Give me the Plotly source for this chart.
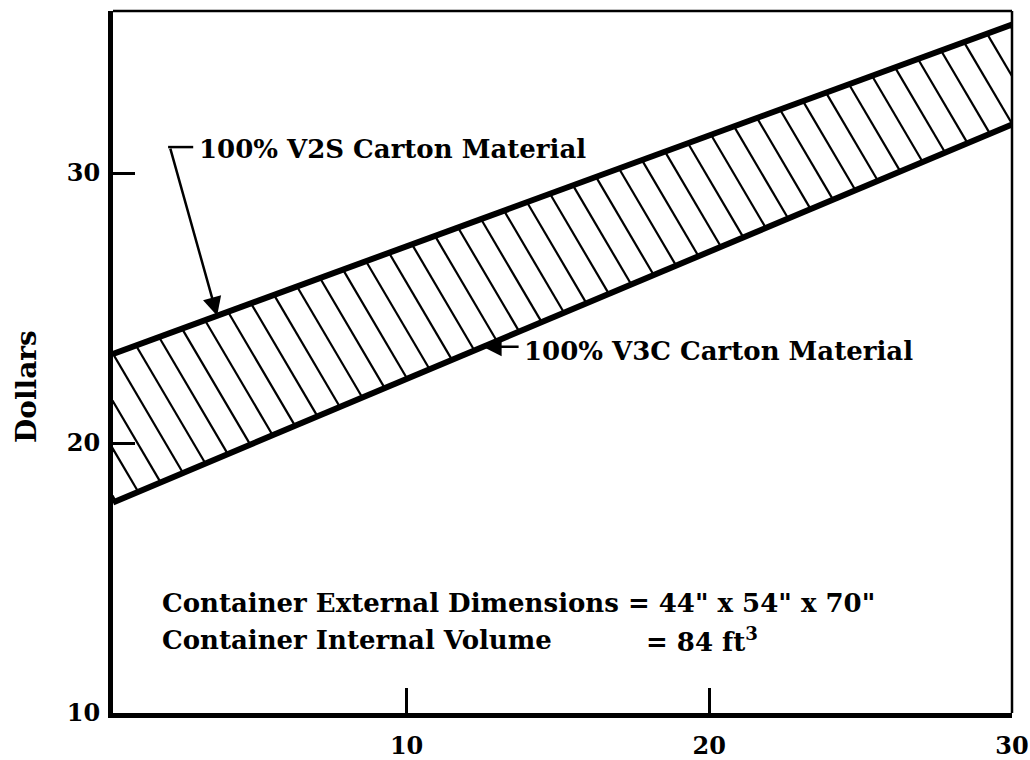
import plotly.graph_objects as go

# ---- data ----
x_ends = [0.3, 30.0]            # x at left and right edge of the band
v2s_cost = [23.3, 35.5]         # 100% V2S Carton Material (upper line)
v3c_cost = [17.8, 31.8]         # 100% V3C Carton Material (lower line)
x_ticks = [10, 20, 30]
y_ticks = [10, 20, 30]
x_range = [0.3, 30.0]
y_range = [10, 36]

FONT = "DejaVu Serif"
W, H = 1030, 760
ML, MR, MT, MB = 113, 18, 11, 47
pw, ph = W - ML - MR, H - MT - MB
px_per_x = pw / (x_range[1] - x_range[0])
px_per_y = ph / (y_range[1] - y_range[0])


def line_fn(ys):
    b = (ys[1] - ys[0]) / (x_ends[1] - x_ends[0])
    a = ys[0] - b * x_ends[0]
    return a, b


au, bu = line_fn(v2s_cost)
al, bl = line_fn(v3c_cost)

# hatch lines (style): steep "\" strokes spanning the band
hatch_slope_px = 1.7
m = hatch_slope_px * px_per_x / px_per_y
spacing = 23 / px_per_x
hx, hy = [], []
xs = x_ends[0] - 8 * spacing
while xs <= x_ends[1] + spacing:
    c = au + bu * xs + m * xs
    x_u = xs
    x_l = (c - al) / (m + bl)
    hx += [x_u, x_l, None]
    hy += [c - m * x_u, c - m * x_l, None]
    xs += spacing

fig = go.Figure()
fig.add_trace(go.Scatter(x=hx, y=hy, mode="lines",
                         line=dict(color="black", width=2.2),
                         hoverinfo="skip", showlegend=False))
fig.add_trace(go.Scatter(x=x_ends, y=v2s_cost, mode="lines",
                         line=dict(color="black", width=6),
                         name="100% V2S Carton Material", showlegend=False))
fig.add_trace(go.Scatter(x=x_ends, y=v3c_cost, mode="lines",
                         line=dict(color="black", width=6),
                         name="100% V3C Carton Material", showlegend=False))

tf = dict(family=FONT, size=26, color="black", weight="bold")

# V2S label with bent arrow
tip_x = 3.74
tip_y = au + bu * tip_x
tail_x, tail_y = 2.18, 30.96
fig.add_annotation(x=tip_x, y=tip_y, ax=tail_x, ay=tail_y, axref="x", ayref="y",
                   text="", showarrow=True, arrowhead=2, arrowsize=1.5,
                   arrowwidth=2.5, arrowcolor="black")
fig.add_shape(type="line", x0=tail_x - 0.06, x1=2.95, y0=tail_y, y1=tail_y,
              line=dict(color="black", width=2.5))
fig.add_annotation(x=3.08, y=30.9, text="100% V2S Carton Material",
                   showarrow=False, xanchor="left", yanchor="middle", font=tf)

# V3C label with horizontal arrow
tip2_x = 12.52
tip2_y = al + bl * tip2_x
fig.add_annotation(x=tip2_x, y=tip2_y, ax=13.75, ay=tip2_y, axref="x", ayref="y",
                   text="", showarrow=True, arrowhead=2, arrowsize=1.5,
                   arrowwidth=2.5, arrowcolor="black")
fig.add_annotation(x=13.80, y=tip2_y - 0.15, text="100% V3C Carton Material",
                   showarrow=False, xanchor="left", yanchor="middle", font=tf)

# container notes
fig.add_annotation(x=1.85, y=14.07,
                   text="Container External Dimensions = 44\" x 54\" x 70\"",
                   showarrow=False, xanchor="left", yanchor="middle", font=tf)
fig.add_annotation(x=1.85, y=12.70, text="Container Internal Volume",
                   showarrow=False, xanchor="left", yanchor="middle", font=tf)
fig.add_annotation(x=17.85, y=12.70, text="= 84 ft<sup>3</sup>",
                   showarrow=False, xanchor="left", yanchor="middle", font=tf)

# y-axis title (page coords 26, 387)
fig.add_annotation(xref="paper", yref="paper", x=(26 - ML) / pw, y=(H - MB - 387) / ph,
                   text="Dollars", textangle=-90, showarrow=False,
                   xanchor="center", yanchor="middle",
                   font=dict(family=FONT, size=28, color="black", weight="bold"))

# thin top and right frame
fig.add_shape(type="line", xref="paper", yref="paper", x0=0, x1=1, y0=1, y1=1,
              line=dict(color="black", width=2.5))
fig.add_shape(type="line", xref="paper", yref="paper", x0=1, x1=1, y0=0, y1=1,
              line=dict(color="black", width=2.5))

tick_font = dict(family=FONT, size=24, color="black", weight="bold")
fig.update_layout(
    width=W, height=H,
    margin=dict(l=ML, r=MR, t=MT, b=MB, autoexpand=False),
    paper_bgcolor="white", plot_bgcolor="white",
    xaxis=dict(range=x_range, tickvals=x_ticks, ticks="inside", ticklen=25,
               tickwidth=2.5, tickcolor="black", showline=True, linewidth=5,
               linecolor="black", showgrid=False, zeroline=False, automargin=False,
               tickfont=tick_font, ticklabelstandoff=7, ticklabeloverflow="allow"),
    yaxis=dict(range=y_range, tickvals=y_ticks, ticks="inside", ticklen=22,
               tickwidth=2.5, tickcolor="black", showline=True, linewidth=5,
               linecolor="black", showgrid=False, zeroline=False, automargin=False,
               tickfont=tick_font, ticklabelstandoff=3, ticklabeloverflow="allow"),
    showlegend=False,
)

fig.write_html("out.html",
               config={"displayModeBar": False},
               post_script="document.body.style.margin='0';"
                           "document.documentElement.style.overflow='hidden';"
                           "document.body.style.overflow='hidden';")
